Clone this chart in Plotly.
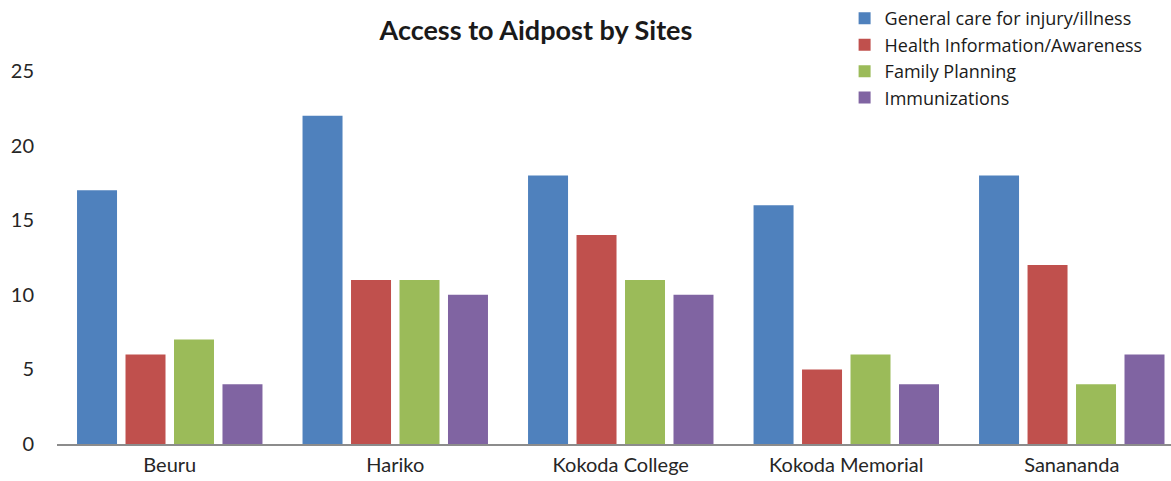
import plotly.graph_objects as go

sites = ["Beuru", "Hariko", "Kokoda College", "Kokoda Memorial", "Sanananda"]
general_care = [17, 22, 18, 16, 18]
health_info = [6, 11, 14, 5, 12]
family_planning = [7, 11, 11, 6, 4]
immunizations = [4, 10, 10, 4, 6]

series = [
    ("General care for injury/illness", general_care, "#4F81BD"),
    ("Health Information/Awareness", health_info, "#C0504D"),
    ("Family Planning", family_planning, "#9BBB59"),
    ("Immunizations", immunizations, "#8064A2"),
]

font_family = "Lato, 'Open Sans', sans-serif"

fig = go.Figure()
for name, vals, color in series:
    fig.add_trace(go.Bar(x=sites, y=vals, name=name, marker_color=color,
                         marker_line_width=0))

fig.update_layout(
    width=1171, height=481,
    margin=dict(l=57, r=0, t=71, b=37),
    paper_bgcolor="white", plot_bgcolor="white",
    barmode="group", bargap=0.14, bargroupgap=0.175,
    font=dict(family=font_family, color="#262626"),
    title=dict(text="<b>Access to Aidpost by Sites</b>", x=0.4577, xanchor="center",
               y=0.937, yanchor="middle", font=dict(size=27, color="#1a1a1a")),
    legend=dict(x=0.707, y=1.19, xanchor="left", yanchor="top",
                font=dict(family="'Open Sans', sans-serif", size=18, color="#1a1a1a"),
                bgcolor="rgba(0,0,0,0)", itemwidth=30, tracegroupgap=0),
    showlegend=True,
)
fig.update_xaxes(range=[-0.5, 4.44], showline=True, linecolor="#8c8c8c", linewidth=1.5,
                 ticks="", tickfont=dict(size=20), showgrid=False, ticklabelstandoff=2,
                 automargin=False)
fig.update_yaxes(range=[0, 25], tickvals=[0, 5, 10, 15, 20, 25], showgrid=False,
                 zeroline=False, showline=False, tickfont=dict(size=20), ticklabelstandoff=22,
                 automargin=False)

fig.write_html("out.html")
